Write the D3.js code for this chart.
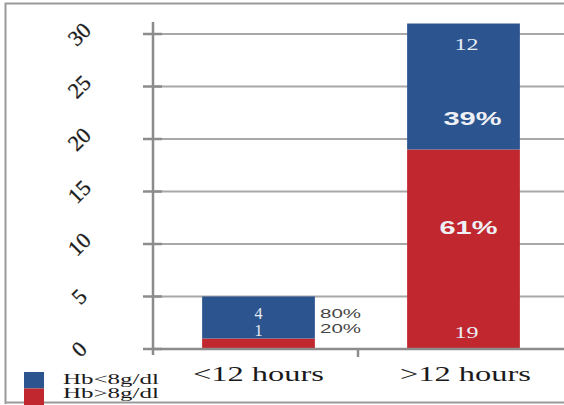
<!DOCTYPE html>
<html><head><meta charset="utf-8">
<script src="https://cdn.jsdelivr.net/npm/d3@7"></script>
<style>body{margin:0;background:#fff}</style>
</head><body><svg id="c" width="564" height="405"></svg>
<script>
const categories = ["<12 hours", ">12 hours"];
const seriesNames = ["Hb>8g/dl", "Hb<8g/dl"];
const hbAbove8 = [1, 19];
const hbBelow8 = [4, 12];
const pctBelow8 = ["80%", "39%"];
const pctAbove8 = ["20%", "61%"];
const yTicks = [0, 5, 10, 15, 20, 25, 30];
const colors = {"Hb<8g/dl": "#2c5590", "Hb>8g/dl": "#c1272e"};

const svg = d3.select("#c");
// frame
svg.append("path").attr("d","M5.5,404 V3.5 H564 M5,402.5 H564").attr("fill","none").attr("stroke","#9a9a9a").attr("stroke-width",2);

const x = d3.scaleBand().domain(categories).range([156, 566]).paddingInner(0.45).paddingOuter(0.225);
const y = d3.scaleLinear().domain([0, 30]).range([349, 34]);

// gridlines
svg.append("g").selectAll("line").data(yTicks.filter(t=>t>0)).join("line")
  .attr("x1",153).attr("x2",564).attr("y1",d=>y(d)).attr("y2",d=>y(d))
  .attr("stroke","#a8a8a8").attr("stroke-width",2);

const data = categories.map((c,i)=>({cat:c, above:hbAbove8[i], below:hbBelow8[i]}));
const stack = d3.stack().keys(["above","below"])(data);
const keyColor = {above: colors["Hb>8g/dl"], below: colors["Hb<8g/dl"]};
svg.append("g").selectAll("g").data(stack).join("g").attr("fill",d=>keyColor[d.key])
  .selectAll("rect").data(d=>d).join("rect")
  .attr("x",d=>x(d.data.cat)).attr("width",x.bandwidth())
  .attr("y",d=>y(d[1])).attr("height",d=>y(d[0])-y(d[1]));

// y axis
const yAxis = d3.axisLeft(y).tickValues(yTicks).tickSize(0).tickFormat("");
const ya = svg.append("g").attr("transform","translate(153,0)").call(yAxis);
ya.select(".domain").remove();
svg.append("line").attr("x1",153).attr("x2",153).attr("y1",22).attr("y2",355).attr("stroke","#8c8c8c").attr("stroke-width",2.5);
svg.append("g").selectAll("line").data(yTicks).join("line")
  .attr("x1",143).attr("x2",162).attr("y1",d=>y(d)).attr("y2",d=>y(d))
  .attr("stroke","#8c8c8c").attr("stroke-width",2.5);
svg.append("g").selectAll("text").data(yTicks).join("text")
  .attr("transform",d=>`translate(79,${y(d)}) rotate(-45)`)
  .attr("text-anchor","middle").attr("dy","0.35em")
  .attr("font-family","Liberation Serif").attr("font-size",22).attr("fill","#1a1a1a")
  .attr("stroke","#1a1a1a").attr("stroke-width",0.3)
  .text(d=>d);

// x axis
svg.append("line").attr("x1",153).attr("x2",564).attr("y1",349).attr("y2",349).attr("stroke","#8c8c8c").attr("stroke-width",2.5);
svg.append("line").attr("x1",358).attr("x2",358).attr("y1",349).attr("y2",357).attr("stroke","#8c8c8c").attr("stroke-width",2.5);
svg.append("g").selectAll("text").data(categories).join("text")
  .attr("x",(d,i)=>x(d)+x.bandwidth()/2 + (i===0?0:2)).attr("y",381).attr("text-anchor","middle")
  .attr("font-family","Liberation Serif").attr("font-size",22).attr("fill","#1a1a1a")
  .attr("textLength",131).attr("lengthAdjust","spacingAndGlyphs")
  .text(d=>d);

// value labels
const cx = i => x(categories[i]) + x.bandwidth()/2;
const serifW = {"font-family":"Liberation Serif","font-size":16,"fill":"#e8ecf4"};
function t(xp, yp, txt, attrs){const e=svg.append("text").attr("x",xp).attr("y",yp).attr("text-anchor","middle").text(txt);for(const k in attrs)e.attr(k,attrs[k]);return e;}
t(cx(0), 319, hbBelow8[0], serifW);
t(cx(0), 336, hbAbove8[0], serifW);
t(cx(1)+3, 50, hbBelow8[1], Object.assign({textLength:24,lengthAdjust:"spacingAndGlyphs"},serifW));
t(cx(1)+3, 338, hbAbove8[1], Object.assign({textLength:24,lengthAdjust:"spacingAndGlyphs"},serifW));
const sansW = {"font-family":"Liberation Sans","font-size":18,"font-weight":"bold","fill":"#eef0f5","textLength":58,"lengthAdjust":"spacingAndGlyphs"};
t(cx(1)+9, 125, pctBelow8[1], sansW);
t(cx(1)+5, 234, pctAbove8[1], sansW);
const sansD = {"font-family":"Liberation Sans","font-size":13,"fill":"#444","text-anchor":"start","textLength":41,"lengthAdjust":"spacingAndGlyphs"};
t(320, 318, pctBelow8[0], sansD);
t(320, 333, pctAbove8[0], sansD);

// legend
const legendOrder = ["Hb<8g/dl","Hb>8g/dl"];
const lg = svg.append("g");
lg.selectAll("rect").data(legendOrder).join("rect")
  .attr("x",24).attr("y",(d,i)=>372+i*16.5).attr("width",20).attr("height",16.5)
  .attr("fill",d=>colors[d]);
lg.selectAll("text").data(legendOrder).join("text")
  .attr("x",63).attr("y",(d,i)=>384+i*14)
  .attr("font-family","Liberation Serif").attr("font-size",14).attr("fill","#1a1a1a")
  .attr("textLength",96).attr("lengthAdjust","spacingAndGlyphs")
  .text(d=>d);
</script></body></html>
